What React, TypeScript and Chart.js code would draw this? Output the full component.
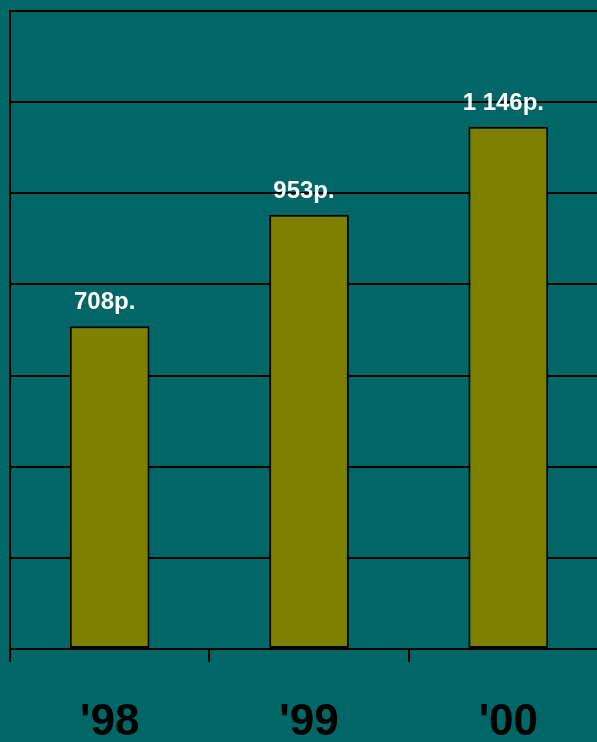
import React, { useEffect, useRef } from "react";
import { Chart, registerables } from "chart.js";

Chart.register(...registerables);

const categories = ["'98", "'99", "'00"];
const values = [708, 953, 1146];
const valueLabels = ["708р.", "953р.", "1 146р."];
const yMax = 1400;
const yStep = 200;

const valueLabelPlugin = {
  id: "valueLabels",
  afterDatasetsDraw(chart: any) {
    const ctx = chart.ctx;
    const meta = chart.getDatasetMeta(0);
    ctx.save();
    ctx.fillStyle = "#ffffff";
    ctx.font = "bold 24px 'Liberation Sans', Arial, sans-serif";
    ctx.textAlign = "center";
    ctx.textBaseline = "alphabetic";
    meta.data.forEach((el: any, i: number) => {
      ctx.fillText(valueLabels[i], el.x - 5, el.y - 17);
    });
    ctx.restore();
  },
};

export default function App() {
  const ref = useRef<HTMLCanvasElement | null>(null);
  useEffect(() => {
    if (!ref.current) return;
    const chart = new Chart(ref.current, {
      type: "bar",
      data: {
        labels: categories,
        datasets: [
          {
            data: values,
            backgroundColor: "#808000",
            borderColor: "#000000",
            borderWidth: 2,
            borderSkipped: false,
            categoryPercentage: 1,
            barPercentage: 0.4,
          },
        ],
      },
      options: {
        animation: false,
        responsive: false,
        maintainAspectRatio: false,
        devicePixelRatio: 1,
        layout: { padding: { left: 10, top: 11, right: 0, bottom: 0 } },
        plugins: {
          legend: { display: false },
          tooltip: { enabled: false },
        },
        scales: {
          x: {
            grid: {
              drawOnChartArea: false,
              drawTicks: true,
              tickLength: 13,
              color: "#000000",
              lineWidth: 2,
            },
            border: { display: true, color: "#000000", width: 2 },
            ticks: {
              color: "#000000",
              font: { family: "'Liberation Sans', Arial, sans-serif", size: 44, weight: "bold" },
              padding: 34,
            },
            afterFit: (scale: any) => {
              scale.height = 93;
            },
          },
          y: {
            min: 0,
            max: yMax,
            ticks: { display: false, stepSize: yStep },
            grid: {
              color: "#000000",
              lineWidth: 2,
              drawTicks: false,
              tickLength: 0,
            },
            border: { display: true, color: "#000000", width: 2 },
            afterFit: (scale: any) => {
              scale.width = 0;
            },
          },
        },
      },
      plugins: [valueLabelPlugin],
    });
    return () => chart.destroy();
  }, []);
  return (
    <div
      style={{
        position: "fixed",
        left: 0,
        top: 0,
        width: 597,
        height: 742,
        overflow: "hidden",
        background: "#006666",
      }}
    >
      <canvas ref={ref} width={608} height={742} style={{ display: "block", width: 608, height: 742 }} />
    </div>
  );
}
